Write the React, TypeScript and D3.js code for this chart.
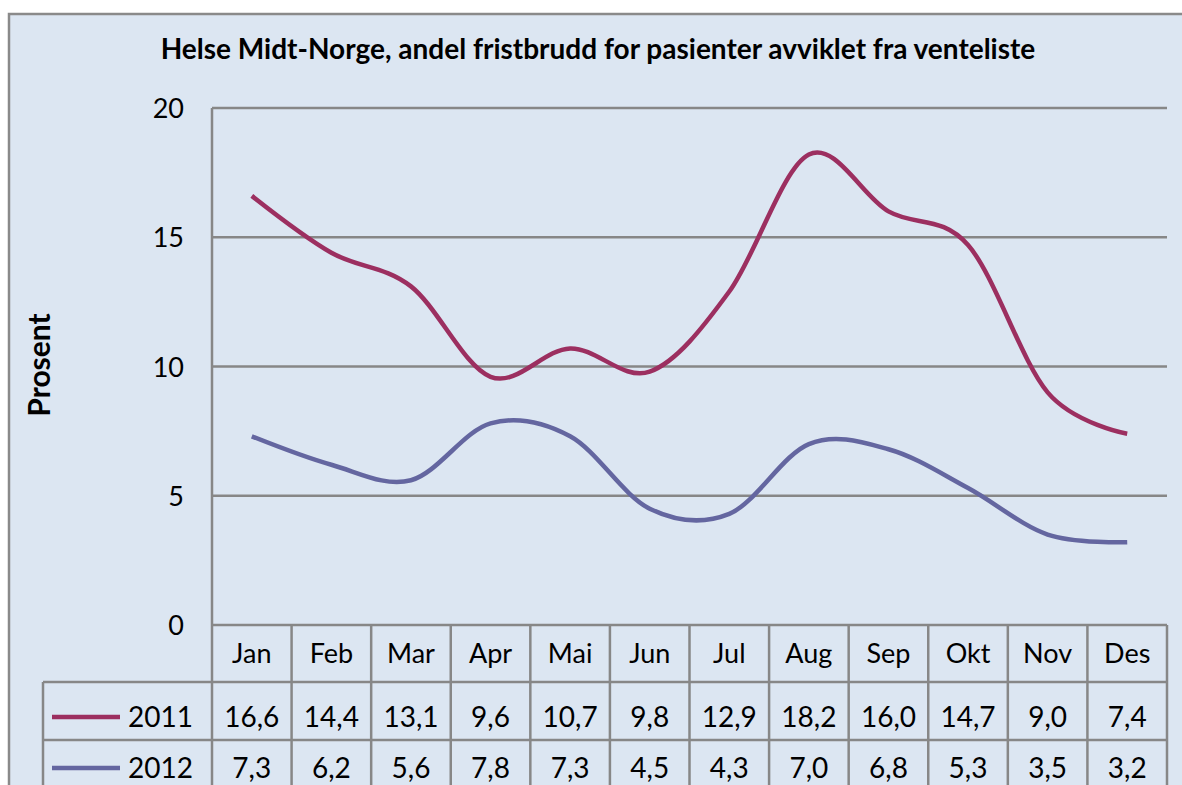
import { useEffect, useRef } from "react";
import * as d3 from "d3";

const months = ["Jan", "Feb", "Mar", "Apr", "Mai", "Jun", "Jul", "Aug", "Sep", "Okt", "Nov", "Des"];
const values2011 = [16.6, 14.4, 13.1, 9.6, 10.7, 9.8, 12.9, 18.2, 16.0, 14.7, 9.0, 7.4];
const values2012 = [7.3, 6.2, 5.6, 7.8, 7.3, 4.5, 4.3, 7.0, 6.8, 5.3, 3.5, 3.2];
const yTicks = [0, 5, 10, 15, 20];

const series = [
  { name: "2011", values: values2011, color: "#9c2f60" },
  { name: "2012", values: values2012, color: "#6466a0" },
];

const title = "Helse Midt-Norge, andel fristbrudd for pasienter avviklet fra venteliste";
const font = "Lato, 'Open Sans', sans-serif";
const gridColor = "#878787";

const App = () => {
  const svgRef = useRef<SVGSVGElement | null>(null);

  useEffect(() => {
    const svg = d3.select(svgRef.current);
    svg.selectAll("*").remove();

    const plot = { left: 212, right: 1167, top: 108, bottom: 625 };
    const rowH = [57, 58, 58];
    const legendLeft = 43;

    const x = d3.scaleBand<string>().domain(months).range([plot.left, plot.right]);
    const y = d3.scaleLinear().domain([0, 20]).range([plot.bottom, plot.top]);
    const cx = (m: string) => (x(m) as number) + x.bandwidth() / 2;

    // chart background + frame
    svg.append("rect")
      .attr("x", 9).attr("y", 14)
      .attr("width", 1200).attr("height", 800)
      .attr("fill", "#dce6f2")
      .attr("stroke", "#8a8a8a")
      .attr("stroke-width", 2.5);

    svg.append("text")
      .attr("x", 598).attr("y", 59)
      .attr("text-anchor", "middle")
      .style("font-family", font)
      .style("font-weight", "bold")
      .style("font-size", "28px")
      .text(title);

    // y axis title
    svg.append("text")
      .attr("transform", `translate(50,365) rotate(-90)`)
      .attr("text-anchor", "middle")
      .style("font-family", font)
      .style("font-weight", "bold")
      .style("font-size", "30px")
      .text("Prosent");

    // gridlines
    svg.append("g")
      .selectAll("line")
      .data(yTicks.filter((t) => t > 0))
      .join("line")
      .attr("x1", plot.left).attr("x2", plot.right)
      .attr("y1", (d) => y(d)).attr("y2", (d) => y(d))
      .attr("stroke", gridColor)
      .attr("stroke-width", 2.5);

    svg.append("g")
      .selectAll("text")
      .data(yTicks)
      .join("text")
      .attr("x", 184)
      .attr("y", (d) => y(d) + 10)
      .attr("text-anchor", "end")
      .style("font-family", font)
      .style("font-size", "27px")
      .text((d) => d);

    // data table
    const rowTops = [plot.bottom, plot.bottom + rowH[0], plot.bottom + rowH[0] + rowH[1]];
    const tableBottom = rowTops[2] + rowH[2];
    const t = svg.append("g").attr("stroke", gridColor).attr("stroke-width", 2.5);
    t.append("line").attr("x1", plot.left).attr("x2", plot.left).attr("y1", plot.top).attr("y2", tableBottom);
    t.append("line").attr("x1", plot.left).attr("x2", plot.right).attr("y1", plot.bottom).attr("y2", plot.bottom);
    t.append("line").attr("x1", legendLeft).attr("x2", plot.right).attr("y1", rowTops[1]).attr("y2", rowTops[1]);
    t.append("line").attr("x1", legendLeft).attr("x2", plot.right).attr("y1", rowTops[2]).attr("y2", rowTops[2]);
    t.append("line").attr("x1", legendLeft).attr("x2", legendLeft).attr("y1", rowTops[1]).attr("y2", tableBottom);
    t.selectAll("line.col")
      .data(months)
      .join("line")
      .attr("class", "col")
      .attr("x1", (m) => (x(m) as number) + x.bandwidth())
      .attr("x2", (m) => (x(m) as number) + x.bandwidth())
      .attr("y1", plot.bottom).attr("y2", tableBottom);

    svg.append("g")
      .selectAll("text")
      .data(months)
      .join("text")
      .attr("x", cx)
      .attr("y", rowTops[0] + 38)
      .attr("text-anchor", "middle")
      .style("font-family", font)
      .style("font-size", "27px")
      .text((d) => d);

    const fmt = (v: number) => v.toFixed(1).replace(".", ",");

    series.forEach((s, si) => {
      const rowY = rowTops[si + 1];
      // last row sits at the page's bottom edge, so it is nudged up to stay whole
      const base = si === 0 ? rowY + 45 : rowY + 38;
      const row = svg.append("g");
      row.append("line")
        .attr("x1", 52).attr("x2", 120)
        .attr("y1", base - 10).attr("y2", base - 10)
        .attr("stroke", s.color)
        .attr("stroke-width", 4.5);
      row.append("text")
        .attr("x", 128).attr("y", base)
        .style("font-family", font)
        .style("font-size", "28px")
        .text(s.name);
      row.selectAll("text.v")
        .data(s.values)
        .join("text")
        .attr("class", "v")
        .attr("x", (_, i) => cx(months[i]))
        .attr("y", base)
        .attr("text-anchor", "middle")
        .style("font-family", font)
        .style("font-size", "28px")
        .text((v) => fmt(v));

      const line = d3.line<number>()
        .x((_, i) => cx(months[i]))
        .y((v) => y(v))
        .curve(d3.curveCatmullRom.alpha(0));

      svg.append("path")
        .datum(s.values)
        .attr("fill", "none")
        .attr("stroke", s.color)
        .attr("stroke-width", 4.5)
        .attr("stroke-linejoin", "round")
        .attr("d", line);
    });
  }, []);

  return (
    <div style={{ position: "absolute", left: 0, top: 0 }}>
      <svg ref={svgRef} width={1182} height={785} style={{ display: "block", background: "#fff" }} />
    </div>
  );
};

export default App;
